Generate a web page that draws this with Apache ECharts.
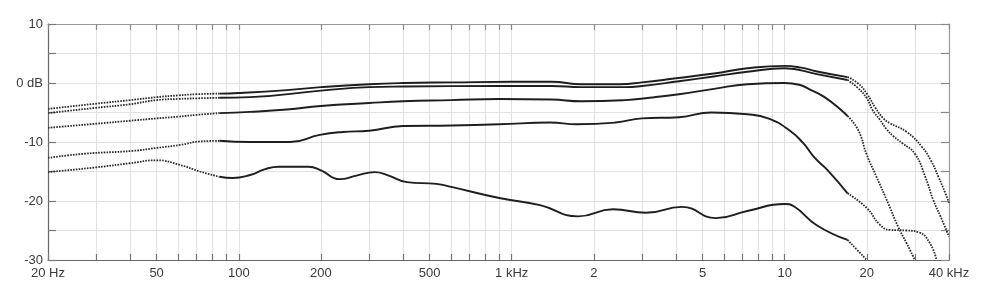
<!DOCTYPE html>
<html>
<head>
<meta charset="utf-8">
<script src="https://cdn.jsdelivr.net/npm/echarts@6/dist/echarts.min.js"></script>
<style>html,body{margin:0;padding:0;background:#fff}#c{width:981px;height:302px}</style>
</head>
<body>
<div id="c"></div>
<script>
// Frequency tick positions (grid lines) and labelled ticks
const freqTicks = [20,30,40,50,60,70,80,90,100,200,300,400,500,600,700,800,900,
  1000,2000,3000,4000,5000,6000,7000,8000,9000,10000,20000,30000,40000];
const freqLabelValues = [20,50,100,200,500,1000,2000,5000,10000,20000,40000];
const freqLabelTexts  = ['20 Hz','50','100','200','500','1 kHz','2','5','10','20','40 kHz'];
const dbLabelValues = [10,0,-10,-20,-30];
const dbLabelTexts  = ['10','0 dB','-10','-20','-30'];

// Curves: [frequency Hz, level dB]
const curveA = [[20,-4.4],[30,-3.5],[40,-2.9],[50,-2.4],[60,-2.1],[70,-1.9],[85,-1.8],[100,-1.7],
  [150,-1.2],[200,-0.7],[300,-0.2],[400,0],[600,0.1],[1000,0.2],[1400,0.2],[1800,-0.2],[2500,-0.2],
  [3000,0.1],[4000,0.8],[5500,1.6],[7300,2.5],[10000,2.9],[11500,2.6],[13000,2.0],[17000,1.0],
  [18500,0],[20000,-1.8],[21500,-4.2],[23000,-6.0],[24300,-6.8],[28000,-8.3],[31800,-10.8],
  [34300,-13.1],[36600,-15.9],[38800,-18.7],[40000,-20.3]];
const curveB = [[20,-5.1],[30,-4.2],[40,-3.6],[50,-2.9],[60,-2.7],[70,-2.6],[85,-2.5],[110,-2.4],
  [200,-1.3],[300,-0.7],[400,-0.6],[900,-0.5],[1400,-0.5],[1800,-0.7],[2600,-0.7],[3000,-0.5],
  [4100,0.3],[5500,1.1],[7300,1.9],[10000,2.5],[13100,1.5],[17000,0.5],[18500,-0.8],[20000,-2.6],
  [21000,-4.6],[22300,-6.2],[23600,-7.8],[25000,-9.0],[27000,-10.2],[30000,-12.0],[32800,-16.0],
  [35000,-19.8],[37300,-22.7],[40000,-26]];
const curveC = [[20,-7.6],[30,-6.9],[40,-6.4],[50,-6.0],[60,-5.7],[70,-5.4],[85,-5.1],[110,-4.9],
  [150,-4.5],[200,-3.9],[300,-3.4],[400,-3.1],[600,-2.9],[900,-2.7],[1400,-2.8],[1800,-3.1],
  [2600,-2.9],[3200,-2.5],[4100,-1.9],[5500,-1.0],[7300,-0.2],[10000,0.0],[11300,-0.3],
  [12500,-1.2],[14000,-2.4],[16400,-4.9],[17000,-5.6],[18600,-8.0],[20000,-12.2],[21700,-15.9],
  [24000,-20.5],[26000,-24.3],[28000,-27.2],[30000,-30]];
const curveD = [[20,-12.7],[27,-12.0],[41,-11.5],[50,-11.0],[61,-10.5],[72,-9.9],[85,-9.8],
  [110,-10.0],[154,-10.0],[198,-8.8],[240,-8.3],[300,-8.1],[400,-7.3],[600,-7.2],[900,-7.0],
  [1380,-6.7],[1730,-7.0],[2400,-6.7],[3000,-6.0],[4100,-5.8],[5400,-5.0],[7300,-5.3],[8700,-6.0],
  [10400,-8.0],[11700,-10.2],[12900,-12.7],[14300,-14.7],[17000,-18.7],[20000,-21.2],[22300,-24.0],
  [24300,-24.9],[28000,-25.0],[31000,-25.3],[34000,-27.1],[36000,-30]];
const curveE = [[20,-15.1],[30,-14.3],[40,-13.6],[50,-13.1],[61,-13.9],[72,-15.0],[85,-15.9],
  [95,-16.1],[110,-15.6],[125,-14.6],[140,-14.2],[180,-14.2],[200,-14.8],[234,-16.3],[270,-15.7],
  [315,-15.1],[350,-15.6],[413,-16.8],[530,-17.1],[600,-17.6],[900,-19.5],[1270,-20.7],
  [1750,-22.6],[2350,-21.4],[3100,-22.0],[4200,-21.0],[5600,-22.9],[7300,-21.7],[10000,-20.5],
  [10800,-20.9],[13100,-24.1],[17000,-26.6],[20000,-30]];

const curves = [curveA, curveB, curveC, curveD, curveE];
const solidFrom = 85, solidTo = 17000;

const series = [];
curves.forEach(function (c) {
  const low = c.filter(p => p[0] <= solidFrom);
  const mid = c.filter(p => p[0] >= solidFrom && p[0] <= solidTo);
  const high = c.filter(p => p[0] >= solidTo);
  const base = { type: 'line', showSymbol: false, symbol: 'none', smooth: 0.5, animation: false,
    xAxisIndex: 0, yAxisIndex: 0, z: 5 };
  series.push(Object.assign({}, base, { data: low,
    lineStyle: { color: '#2a2a2a', width: 1.8, type: [1.6, 1.2] } }));
  series.push(Object.assign({}, base, { data: mid,
    lineStyle: { color: '#1e1e1e', width: 1.9, type: 'solid' } }));
  series.push(Object.assign({}, base, { data: high,
    lineStyle: { color: '#2a2a2a', width: 1.8, type: [1.6, 1.2] } }));
});

const labelFont = { color: '#3a3a3a', fontSize: 13, fontFamily: 'Liberation Sans, Arial, sans-serif' };

const chart = echarts.init(document.getElementById('c'), null, { renderer: 'canvas' });
chart.setOption({
  backgroundColor: '#fff',
  animation: false,
  grid: { left: 48, right: 32, top: 24, bottom: 42, containLabel: false },
  xAxis: [
    { type: 'log', logBase: 10, min: 20, max: 40000, position: 'bottom',
      axisLine: { show: true, onZero: false, lineStyle: { color: '#666', width: 1.2 } },
      axisTick: { show: true, inside: true, length: 6, customValues: freqTicks,
        lineStyle: { color: '#777', width: 1.2 } },
      axisLabel: Object.assign({ show: true, margin: 7, customValues: freqLabelValues,
        showMinLabel: true, showMaxLabel: true,
        formatter: function (v) { const i = freqLabelValues.indexOf(Math.round(v)); return i >= 0 ? freqLabelTexts[i] : ''; }
      }, labelFont),
      splitLine: { show: true, lineStyle: { color: '#e2e2e2', width: 1 } },
      minorTick: { show: false }, minorSplitLine: { show: false }
    },
    { type: 'log', logBase: 10, min: 20, max: 40000, position: 'top',
      axisLine: { show: true, onZero: false, lineStyle: { color: '#999', width: 1.2 } },
      axisTick: { show: true, inside: true, length: 6, customValues: freqTicks,
        lineStyle: { color: '#888', width: 1.2 } },
      axisLabel: { show: false },
      splitLine: { show: false }
    }
  ],
  yAxis: [
    { type: 'value', min: -30, max: 10, interval: 5, position: 'left',
      axisLine: { show: true, onZero: false, lineStyle: { color: '#666', width: 1.2 } },
      axisTick: { show: true, inside: true, length: 8, lineStyle: { color: '#777', width: 1.2 } },
      axisLabel: Object.assign({ show: true, margin: 5,
        formatter: function (v) { const i = dbLabelValues.indexOf(v); return i >= 0 ? dbLabelTexts[i] : ''; }
      }, labelFont),
      splitLine: { show: true, lineStyle: { color: '#e2e2e2', width: 1 } }
    },
    { type: 'value', min: -30, max: 10, interval: 5, position: 'right',
      axisLine: { show: true, onZero: false, lineStyle: { color: '#999', width: 1.2 } },
      axisTick: { show: true, inside: true, length: 8, lineStyle: { color: '#888', width: 1.2 } },
      axisLabel: { show: false },
      splitLine: { show: false }
    }
  ],
  series: series
});
</script>
</body>
</html>
